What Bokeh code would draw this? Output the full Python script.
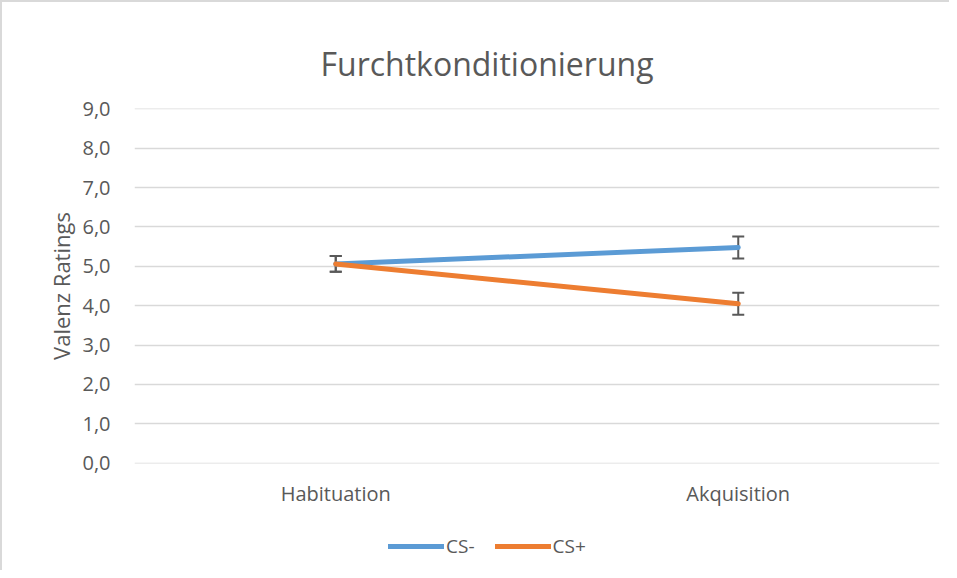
from bokeh.plotting import figure
from bokeh.layouts import column
from bokeh.models import (FactorRange, Range1d, ColumnDataSource, Whisker, TeeHead,
                          Legend, LegendItem, FixedTicker)
from bokeh.embed import file_html
from bokeh.resources import INLINE

phases = ["Habituation", "Akquisition"]
cs_minus = [5.06, 5.48]
cs_minus_err = [0.20, 0.28]
cs_plus = [5.06, 4.05]
cs_plus_err = [0.20, 0.28]
y_ticks = [0, 1, 2, 3, 4, 5, 6, 7, 8, 9]
y_tick_labels = ["0,0", "1,0", "2,0", "3,0", "4,0", "5,0", "6,0", "7,0", "8,0", "9,0"]
series_names = ["CS-", "CS+"]

FONT = "Open Sans"
TXT = "#595959"
BLUE = "#5B9BD5"
ORANGE = "#ED7D31"

p = figure(x_range=FactorRange(*phases), y_range=Range1d(-0.01, 9.01),
           width=947, height=511, output_backend="svg", toolbar_location=None,
           min_border_left=132, min_border_right=10, min_border_top=106,
           min_border_bottom=50)
p.x_range.range_padding = 0
p.outline_line_color = None

p.title.text = "Furchtkonditionierung"
p.title.align = "left"
p.title.offset = 186
p.title.text_font = FONT
p.title.text_font_size = "32px"
p.title.text_font_style = "normal"
p.title.text_color = TXT
p.title.standoff = 48

p.xgrid.grid_line_color = None
p.ygrid.grid_line_color = "#d9d9d9"
p.ygrid.grid_line_width = 1.5

p.yaxis.ticker = FixedTicker(ticks=y_ticks)
p.yaxis.major_label_overrides = {t: l for t, l in zip(y_ticks, y_tick_labels)}
for ax in (p.xaxis[0], p.yaxis[0]):
    ax.axis_line_color = None
    ax.major_tick_line_color = None
    ax.minor_tick_line_color = None
    ax.major_label_text_font = FONT
    ax.major_label_text_color = TXT
p.yaxis.major_label_text_font_size = "20px"
p.xaxis.major_label_text_font_size = "20px"
p.yaxis.major_label_standoff = 18
p.xaxis.major_label_standoff = 10
p.yaxis.axis_label = "Valenz Ratings"
p.yaxis.axis_label_text_font = FONT
p.yaxis.axis_label_text_font_size = "22px"
p.yaxis.axis_label_text_font_style = "normal"
p.yaxis.axis_label_text_color = TXT
p.yaxis.axis_label_standoff = 3

src_m = ColumnDataSource(dict(x=phases, y=cs_minus,
                              lo=[v - e for v, e in zip(cs_minus, cs_minus_err)],
                              hi=[v + e for v, e in zip(cs_minus, cs_minus_err)]))
src_p = ColumnDataSource(dict(x=phases, y=cs_plus,
                              lo=[v - e for v, e in zip(cs_plus, cs_plus_err)],
                              hi=[v + e for v, e in zip(cs_plus, cs_plus_err)]))

for src in (src_m, src_p):
    w = Whisker(source=src, base="x", lower="lo", upper="hi",
                line_color=TXT, line_width=2,
                upper_head=TeeHead(size=12, line_color=TXT, line_width=2),
                lower_head=TeeHead(size=12, line_color=TXT, line_width=2))
    p.add_layout(w)

p.line("x", "y", source=src_m, line_color=BLUE, line_width=5, line_cap="round")
p.line("x", "y", source=src_p, line_color=ORANGE, line_width=5, line_cap="round")

# legend strip below the chart (dummy renderers lie outside the visible range)
lg = figure(width=947, height=57, output_backend="svg", toolbar_location=None,
            x_axis_location=None, y_axis_location=None,
            x_range=Range1d(0, 1), y_range=Range1d(0, 1), min_border=0)
lg.outline_line_color = None
lg.xgrid.grid_line_color = None
lg.ygrid.grid_line_color = None
lr_m = lg.line(x=[-5, -4], y=[-5, -4], line_color=BLUE, line_width=5, line_cap="round")
lr_p = lg.line(x=[-5, -4], y=[-5, -4], line_color=ORANGE, line_width=5, line_cap="round")
legend = Legend(items=[LegendItem(label=series_names[0], renderers=[lr_m]),
                       LegendItem(label=series_names[1], renderers=[lr_p])],
                orientation="horizontal", location=(254, 11),
                glyph_width=56, glyph_height=20, label_standoff=2, spacing=20,
                padding=0, margin=0, border_line_color=None,
                background_fill_alpha=0,
                label_text_font=FONT, label_text_font_size="19px",
                label_text_color=TXT)
lg.add_layout(legend, "center")

layout = column(p, lg, spacing=0,
                styles={"border-left": "2px solid #d9d9d9",
                        "border-top": "2px solid #d9d9d9"})
open("out.html", "w").write(file_html(layout, INLINE))
